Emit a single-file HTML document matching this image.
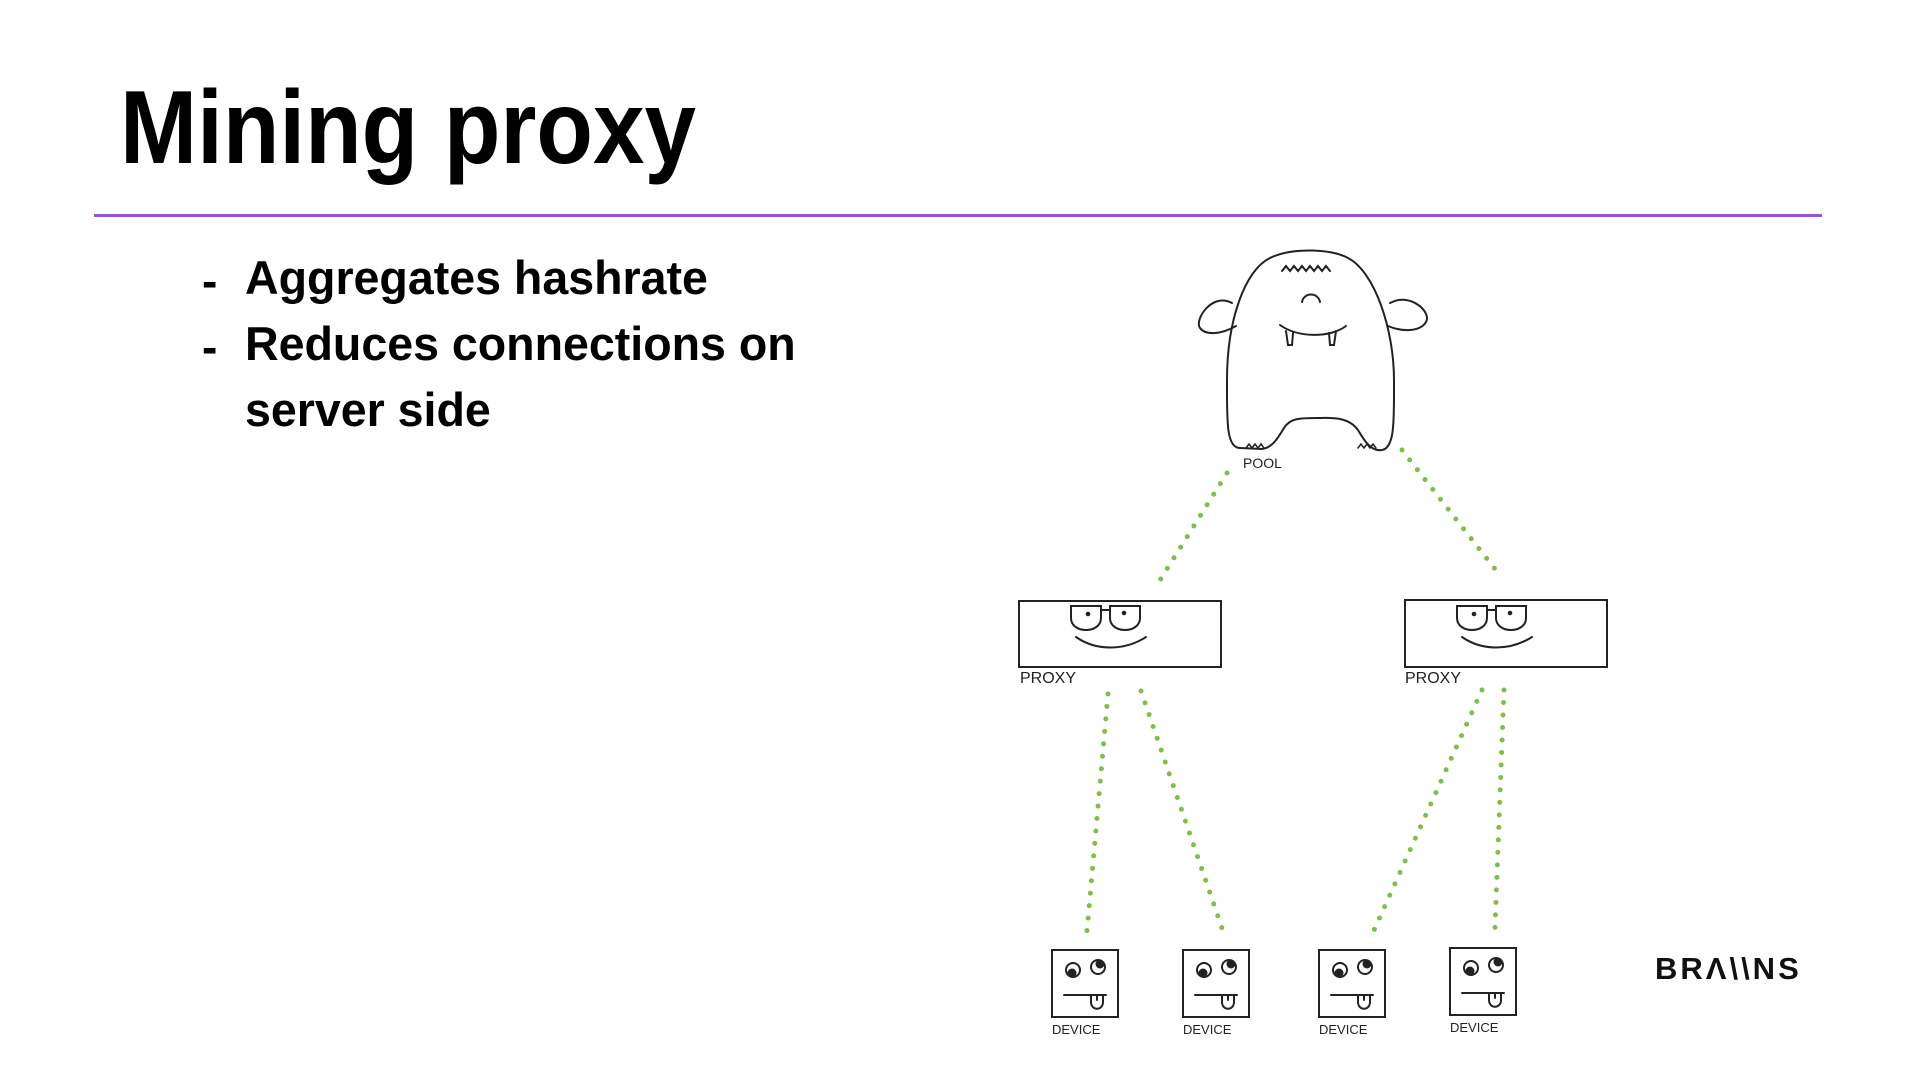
<!DOCTYPE html>
<html><head><meta charset="utf-8"><style>
html,body{margin:0;padding:0;background:#fff;}
body{width:1920px;height:1080px;position:relative;overflow:hidden;font-family:"Liberation Sans",sans-serif;}
.title{position:absolute;left:120px;top:68px;font-size:104px;font-weight:bold;color:#000;transform:scaleX(0.89);transform-origin:left top;white-space:nowrap;line-height:120px;}
.rule{position:absolute;left:94px;top:214px;width:1728px;height:3px;background:#9b4ee0;}
.b{position:absolute;font-size:47px;font-weight:bold;color:#000;white-space:nowrap;transform:scaleX(0.99);transform-origin:left top;line-height:50px;}
.d{position:absolute;font-size:46px;font-weight:bold;}
.logo{position:absolute;left:1655px;top:951px;font-size:31px;font-weight:bold;letter-spacing:3px;color:#111;}
</style></head><body>
<div class="title">Mining proxy</div>
<div class="rule"></div>
<div class="d" style="left:202px;top:254px">-</div>
<div class="d" style="left:202px;top:320px">-</div>
<div class="b" style="left:245px;top:253px">Aggregates hashrate</div>
<div class="b" style="left:245px;top:319px">Reduces connections on</div>
<div class="b" style="left:245px;top:385px">server side</div>
<div class="logo">BRΛ\\NS</div>
<svg width="1920" height="1080" style="position:absolute;left:0;top:0" xmlns="http://www.w3.org/2000/svg">
<g stroke="#7cc142" stroke-width="5" stroke-linecap="round" stroke-dasharray="0 12.5" fill="none">
<line x1="1227" y1="473" x2="1157" y2="585"/>
<line x1="1402" y1="450" x2="1502" y2="578"/>
<line x1="1108" y1="694" x2="1087" y2="931"/>
<line x1="1141" y1="691" x2="1225" y2="937"/>
<line x1="1482" y1="690" x2="1371" y2="937"/>
<line x1="1504" y1="690" x2="1495" y2="928"/>
</g>
<g stroke="#222" stroke-width="2" fill="none" stroke-linecap="round">
<path d="M1232 303 C1212 292 1194 320 1200 328 C1206 336 1222 334 1236 326"/>
<path d="M1390 303 C1410 292 1432 312 1426 322 C1420 332 1402 332 1388 326"/>
<path d="M1240 448 C1226 448 1227 420 1227 380 C1227 320 1245 270 1270 258 C1290 248 1330 248 1348 258 C1375 272 1394 330 1394 380 C1394 420 1395 448 1382 450 C1370 452 1363 438 1358 430 C1348 416 1330 418 1318 418 C1300 418 1290 418 1284 428 C1278 438 1272 448 1262 449 Z"/>
<path d="M1282 271 l4 -5 4 5 4 -5 4 5 4 -5 4 5 4 -5 4 5 4 -5 4 5 4 -5 4 5"/>
<path d="M1302 302 C1304 292 1318 292 1320 302"/>
<path d="M1280 325 C1298 338 1330 338 1346 326"/>
<path d="M1286 331 l2 14 4 0 1 -12"/>
<path d="M1329 333 l1 12 4 0 2 -14"/>
<path d="M1246 448 l3 -4 3 4 3 -4 3 4 3 -4 3 4 M1358 448 l3 -4 3 4 3 -4 3 4 3 -4 3 4" stroke-width="1.5"/>
<rect x="1019" y="601" width="202" height="66"/>
<rect x="1405" y="600" width="202" height="67"/>
<g id="pf">
<path d="M1071 606 l0 12 c0 16 30 16 30 0 l0 -12 z M1110 606 l0 12 c0 16 30 16 30 0 l0 -12 z M1101 610 l9 0"/>
<circle cx="1088" cy="614" r="1.3" fill="#222"/><circle cx="1124" cy="613" r="1.3" fill="#222"/>
<path d="M1076 637 C1096 651 1124 651 1146 637"/>
</g>
<use href="#pf" x="386" y="0"/>
<g id="dv">
<rect x="1052" y="950" width="66" height="67"/>
<circle cx="1073" cy="970" r="7"/><circle cx="1098" cy="967" r="7"/>
<circle cx="1072" cy="973" r="3.5" fill="#222"/><circle cx="1100" cy="964" r="3.5" fill="#222"/>
<path d="M1064 995 l42 0 M1091 995 l0 7 c0 9 12 9 12 0 l0 -7 M1097 995 l0 5"/>
</g>
<use href="#dv" x="131" y="0"/>
<use href="#dv" x="267" y="0"/>
<use href="#dv" x="398" y="-2"/>
</g>
<g font-family="Liberation Sans, sans-serif" fill="#222" font-size="14">
<text x="1243" y="468">POOL</text>
<text x="1020" y="683" font-size="16">PROXY</text>
<text x="1405" y="683" font-size="16">PROXY</text>
<text x="1052" y="1034" font-size="13">DEVICE</text>
<text x="1183" y="1034" font-size="13">DEVICE</text>
<text x="1319" y="1034" font-size="13">DEVICE</text>
<text x="1450" y="1032" font-size="13">DEVICE</text>
</g>
</svg>
</body></html>
